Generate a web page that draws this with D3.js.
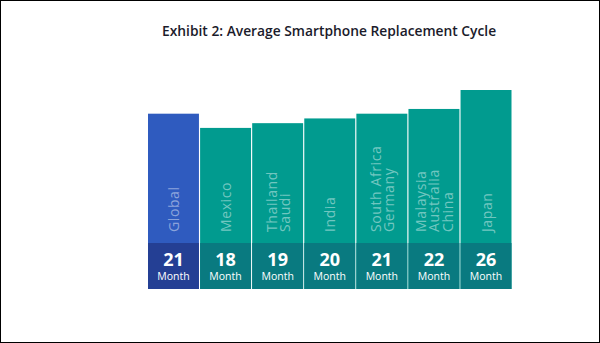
<!DOCTYPE html>
<html>
<head>
<meta charset="utf-8">
<script src="https://cdn.jsdelivr.net/npm/d3@7"></script>
<style>
  body { margin: 0; background: #fff; }
  svg { display: block; }
</style>
</head>
<body>
<div id="chart-area"></div>
<script>
// replacement cycle in months, one bar per market group
const groups = ["Global", "Mexico", "Thailand|Saudi", "India", "South Africa|Germany", "Malaysia|Australia|China", "Japan"];
const months = [21, 18, 19, 20, 21, 22, 26];
const unitLabel = "Month";

const width = 600;
const height = 343;

const svg = d3.select("#chart-area")
    .append("svg")
    .attr("width", width)
    .attr("height", height);

// frame
svg.append("rect")
    .attr("x", 0.5).attr("y", 0.5)
    .attr("width", width - 1).attr("height", height - 1)
    .attr("fill", "none")
    .attr("stroke", "#000");

svg.append("text")
    .attr("x", 162)
    .attr("y", 36.3)
    .attr("font-family", "'Open Sans', sans-serif")
    .attr("font-size", "13.8px")
    .attr("font-weight", 600)
    .attr("fill", "#1b1b2b")
    .text("Exhibit 2: Average Smartphone Replacement Cycle");

const plotBottom = 289;
const bandTop = 243;

const x = d3.scaleBand().domain(groups).range([148, 511.5]).paddingInner(0.022).paddingOuter(0);
// bars all sit on the footer band, so the value scale starts below zero
const y = d3.scaleLinear().domain([-16, 26]).range([plotBottom, 90]);

const barFill = (d, i) => i === 0 ? "#2f5bbf" : "#019b8f";
const bandFill = (d, i) => i === 0 ? "#243f94" : "#097a80";

const bars = svg.selectAll("g.bar")
    .data(groups)
    .enter()
    .append("g")
    .attr("class", "bar");

bars.append("rect")
    .attr("x", d => x(d))
    .attr("y", (d, i) => y(months[i]))
    .attr("width", x.bandwidth())
    .attr("height", (d, i) => y(-16) - y(months[i]))
    .attr("fill", barFill);

bars.append("rect")
    .attr("x", d => x(d))
    .attr("y", bandTop)
    .attr("width", x.bandwidth())
    .attr("height", plotBottom - bandTop)
    .attr("fill", bandFill);

// rotated group names, one line per country
bars.each(function(d) {
    const lines = d.split("|");
    const cx = x(d) + x.bandwidth() / 2;
    const t = d3.select(this).append("text")
        .attr("transform", "translate(" + cx + "," + 232 + ") rotate(-90)")
        .attr("font-family", "'Open Sans', sans-serif")
        .attr("font-size", "14px")
        .attr("letter-spacing", "0.6px")
        .attr("fill", "#ffffff")
        .attr("fill-opacity", 0.45);
    lines.forEach((line, j) => {
        t.append("tspan")
            .attr("x", 0)
            .attr("y", (j - (lines.length - 1) / 2) * 13.3)
            .attr("dominant-baseline", "central")
            .text(line);
    });
});

bars.append("text")
    .attr("x", d => x(d) + x.bandwidth() / 2)
    .attr("y", 266)
    .attr("text-anchor", "middle")
    .attr("font-family", "'Open Sans', sans-serif")
    .attr("font-size", "18px")
    .attr("font-weight", 700)
    .attr("fill", "#fff")
    .text((d, i) => months[i]);

bars.append("text")
    .attr("x", d => x(d) + x.bandwidth() / 2)
    .attr("y", 280)
    .attr("text-anchor", "middle")
    .attr("font-family", "'Open Sans', sans-serif")
    .attr("font-size", "10.5px")
    .attr("fill", "#fff")
    .text(unitLabel);
</script>
</body>
</html>
